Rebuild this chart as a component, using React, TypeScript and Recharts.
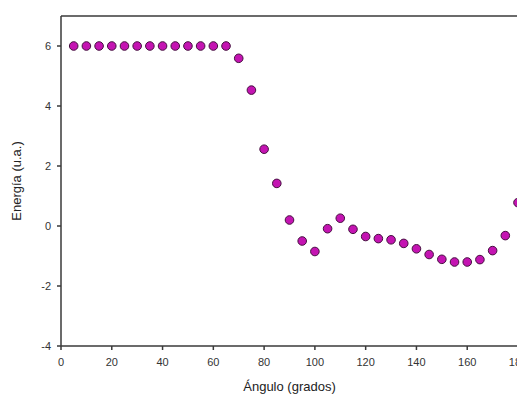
import {
  ScatterChart,
  Scatter,
  XAxis,
  YAxis,
  Label,
  ReferenceLine,
} from "recharts";

// scan angle (degrees) and relative energy (a.u.)
const angles = [
  5, 10, 15, 20, 25, 30, 35, 40, 45, 50, 55, 60, 65, 70, 75, 80, 85, 90, 95,
  100, 105, 110, 115, 120, 125, 130, 135, 140, 145, 150, 155, 160, 165, 170,
  175, 180,
];
const energies = [
  6, 6, 6, 6, 6, 6, 6, 6, 6, 6, 6, 6, 6, 5.59, 4.53, 2.56, 1.42, 0.2, -0.5,
  -0.85, -0.09, 0.26, -0.11, -0.35, -0.42, -0.46, -0.58, -0.76, -0.95, -1.11,
  -1.2, -1.2, -1.12, -0.82, -0.32, 0.78,
];
const xTicks = [0, 20, 40, 60, 80, 100, 120, 140, 160, 180];
const yTicks = [-4, -2, 0, 2, 4, 6];
const yMax = 7;

const points = angles.map((a, i) => ({ angle: a, energy: energies[i] }));

const font = "'Liberation Sans', Arial, sans-serif";
const axisColor = "#3a3a3a";
const tickStyle = { fontSize: 11, fill: "#333", fontFamily: font };

const Dot = (props: any) => (
  <circle
    cx={props.cx}
    cy={props.cy}
    r={4.3}
    fill="#c414b2"
    stroke="#45103f"
    strokeWidth={1}
  />
);

export default function App() {
  return (
    <div
      style={{
        position: "absolute",
        left: 0,
        top: 0,
        width: 517,
        height: 397,
        overflow: "hidden",
        background: "#fff",
      }}
    >
      <ScatterChart
        width={530}
        height={397}
        margin={{ top: 16, right: 12, left: 0, bottom: 21 }}
      >
        <XAxis
          type="number"
          dataKey="angle"
          domain={[0, 180]}
          ticks={xTicks}
          tick={tickStyle}
          tickSize={4}
          tickMargin={8}
          height={30}
          stroke={axisColor}
          strokeWidth={1.5}
          interval={0}
          allowDataOverflow
        >
          <Label
            value="Ángulo (grados)"
            position="bottom"
            offset={0}
            dy={6}
            style={{ fontSize: 13, fill: "#222", fontFamily: font }}
          />
        </XAxis>
        <YAxis
          type="number"
          dataKey="energy"
          domain={[-4, yMax]}
          ticks={yTicks}
          tick={tickStyle}
          tickSize={4}
          tickMargin={6}
          width={61}
          stroke={axisColor}
          strokeWidth={1.5}
          interval={0}
        >
          <Label
            value="Energía (u.a.)"
            angle={-90}
            position="insideLeft"
            offset={16}
            style={{
              fontSize: 13,
              fill: "#222",
              fontFamily: font,
              textAnchor: "middle",
            }}
          />
        </YAxis>
        {/* frame line along the top of the plot */}
        <ReferenceLine y={yMax} stroke={axisColor} strokeWidth={1.5} />
        <Scatter data={points} shape={Dot} isAnimationActive={false} />
      </ScatterChart>
    </div>
  );
}
